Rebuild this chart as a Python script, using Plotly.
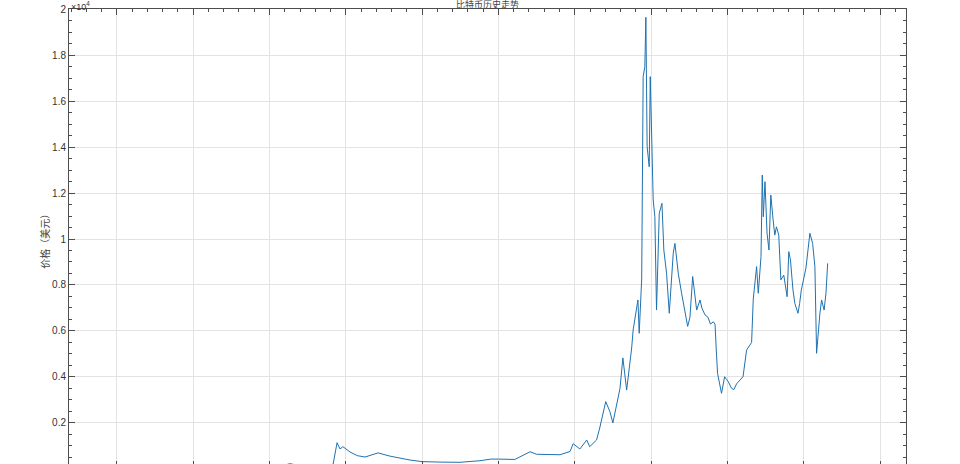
import datetime as dt
import plotly.graph_objects as go

title_text = "比特币历史走势"
y_label = "价格（美元）"

dates = [
    "2010-07-18", "2011-02-09", "2011-06-08", "2011-11-18", "2012-06-01", "2012-08-15",
    "2013-01-01", "2013-04-09", "2013-07-05", "2013-10-01", "2013-11-01",
    "2013-11-20", "2013-12-04", "2013-12-18", "2014-01-21", "2014-02-25", "2014-04-03",
    "2014-06-04", "2014-07-31", "2014-11-04", "2015-01-01", "2015-03-28", "2015-07-01",
    "2015-10-05", "2015-11-26", "2016-01-01", "2016-03-20", "2016-06-01", "2016-07-02",
    "2016-10-22", "2016-12-09", "2016-12-24", "2017-01-25", "2017-02-27", "2017-03-13",
    "2017-04-15", "2017-04-30", "2017-05-29", "2017-06-18", "2017-07-02", "2017-07-20",
    "2017-08-05", "2017-08-19", "2017-09-06", "2017-09-30", "2017-10-07", "2017-10-30",
    "2017-11-05", "2017-11-17", "2017-11-24", "2017-12-02", "2017-12-07", "2017-12-13",
    "2017-12-23", "2017-12-28", "2018-01-04", "2018-01-11", "2018-01-19", "2018-01-27",
    "2018-02-09", "2018-02-22", "2018-03-03", "2018-03-16", "2018-03-29", "2018-04-17",
    "2018-04-25", "2018-05-11", "2018-05-27", "2018-06-12", "2018-06-25", "2018-07-06",
    "2018-07-19", "2018-08-07", "2018-08-23", "2018-09-01", "2018-09-16", "2018-09-30",
    "2018-10-12", "2018-10-26", "2018-11-03", "2018-11-09",
    "2018-11-15", "2018-12-04", "2018-12-19", "2018-12-28", "2019-01-05", "2019-01-21",
    "2019-02-01", "2019-02-14",
    "2019-03-17", "2019-04-03", "2019-04-27", "2019-05-05", "2019-05-21", "2019-05-29",
    "2019-06-11", "2019-06-17", "2019-06-22", "2019-06-30", "2019-07-10", "2019-07-19",
    "2019-07-28", "2019-08-08", "2019-08-16", "2019-08-24", "2019-09-04", "2019-09-14",
    "2019-09-28", "2019-10-14", "2019-10-22", "2019-10-30", "2019-11-11", "2019-11-20",
    "2019-12-05", "2019-12-13", "2019-12-21", "2020-01-12", "2020-01-31", "2020-02-13",
    "2020-02-24", "2020-03-03", "2020-03-11", "2020-03-19", "2020-03-27", "2020-04-08",
    "2020-04-17", "2020-04-25",
]

prices = [
    0.09, 1.0, 30, 2.2, 5.3, 13,
    13.5, 230, 68, 125, 205,
    1143, 870, 970, 740, 580, 520,
    700, 560, 390, 320, 300, 290,
    360, 430, 430, 415, 750, 640,
    620, 760, 1100, 870, 1260, 970,
    1260, 1780, 2930, 2490, 2000, 2780,
    3500, 4830, 3430, 5260, 6040, 7350,
    5900, 8260, 17060, 17490, 19640, 14010,
    13140, 17060, 14160, 11700, 10970, 6910,
    11120, 11550, 9520, 8510, 6770, 9380,
    9810, 8510, 7640, 6770, 6200, 6600,
    8370, 6910, 7350, 7000, 6700, 6600,
    6300, 6400, 6300, 5170,
    4160, 3290, 4010, 3900, 3800, 3510,
    3450, 3700,
    4010, 5170, 5500, 7400, 8800, 7640,
    9230, 12780, 10970, 12490, 10250, 9520,
    11910, 10830, 10170, 10530, 10170, 8220,
    8430, 7490, 9450, 9090, 7780, 7200,
    6770, 7200, 7780, 8730, 10250, 9810,
    8800, 5030, 6040, 6770, 7350, 6910,
    7640, 8940,
]
assert len(dates) == len(prices), (len(dates), len(prices))

y_tick_vals = [2000, 4000, 6000, 8000, 10000, 12000, 14000, 16000, 18000, 20000]
y_tick_text = ["0.2", "0.4", "0.6", "0.8", "1", "1.2", "1.4", "1.6", "1.8", "2"]
x_years = list(range(2011, 2022))

x_range = ["2010-05-17", "2021-05-05"]
major_x = [f"{y}-01-01" for y in x_years]
minor_x = []
for y in range(2010, 2022):
    base = dt.datetime(y, 1, 1)
    for k in range(1, 5):
        d = base + dt.timedelta(days=365.25 * k / 5)
        s = d.strftime("%Y-%m-%d")
        if x_range[0] <= s <= x_range[1]:
            minor_x.append(s)

axis_col = "#4d4d4d"
grid_col = "#e3e3e3"
font_main = "Liberation Sans, Arial, Noto Sans CJK SC"

fig = go.Figure()
fig.add_trace(go.Scatter(
    x=dates, y=prices, mode="lines",
    line=dict(color="#1f72b0", width=1),
    showlegend=False, hoverinfo="skip",
))
# invisible trace to carry the bottom tick axis
fig.add_trace(go.Scatter(
    x=[dates[0]], y=[prices[0]], xaxis="x2", mode="markers",
    marker=dict(opacity=0), showlegend=False, hoverinfo="skip",
))

fig.update_layout(
    width=960, height=464,
    margin=dict(l=69, r=54, t=9, b=0),
    paper_bgcolor="white", plot_bgcolor="white",
    font=dict(family=font_main, size=10, color="#333333"),
    xaxis=dict(
        type="date", range=x_range, side="top",
        showline=True, linecolor=axis_col, linewidth=1,
        tickmode="array", tickvals=major_x, showticklabels=False,
        ticks="inside", ticklen=6, tickcolor=axis_col, tickwidth=1,
        showgrid=True, gridcolor=grid_col, gridwidth=1, zeroline=False,
        minor=dict(tickmode="array", tickvals=minor_x, ticks="inside",
                   ticklen=3, tickcolor=axis_col, showgrid=False),
    ),
    xaxis2=dict(
        type="date", range=x_range, overlaying="x", side="bottom", anchor="y",
        showline=False, tickmode="array", tickvals=major_x, showticklabels=False,
        ticks="inside", ticklen=3, tickcolor=axis_col, showgrid=False, zeroline=False,
    ),
    yaxis=dict(
        range=[217, 20000],
        showline=True, linecolor=axis_col, linewidth=1, mirror="ticks",
        tickmode="array", tickvals=y_tick_vals, ticktext=y_tick_text,
        ticks="inside", ticklen=6, tickcolor=axis_col, tickwidth=1,
        showgrid=True, gridcolor=grid_col, gridwidth=1, zeroline=False,
        tickfont=dict(size=10, color="#333333"),
        minor=dict(dtick=500, ticks="inside", ticklen=3, tickcolor=axis_col, showgrid=False),
    ),
    annotations=[
        dict(text=title_text, x=0.5, y=1, xref="paper", yref="paper",
             xanchor="center", yanchor="bottom", yshift=-4, showarrow=False,
             font=dict(family="Noto Sans CJK SC", size=9, color="#444444")),
        dict(text="×10<sup>4</sup>", x=0, y=1, xref="paper", yref="paper",
             xanchor="left", yanchor="bottom", xshift=0, yshift=-5, showarrow=False,
             font=dict(size=9, color="#333333")),
        dict(text=y_label, x=0, y=0.495, xref="paper", yref="paper",
             xanchor="center", yanchor="middle", xshift=-24, textangle=-90,
             showarrow=False,
             font=dict(family="Noto Sans CJK SC", size=10, color="#444444")),
    ],
)

fig.write_html(
    "out.html",
    config={"displayModeBar": False},
    post_script="document.body.style.margin='0px';document.body.style.overflow='hidden';",
)
